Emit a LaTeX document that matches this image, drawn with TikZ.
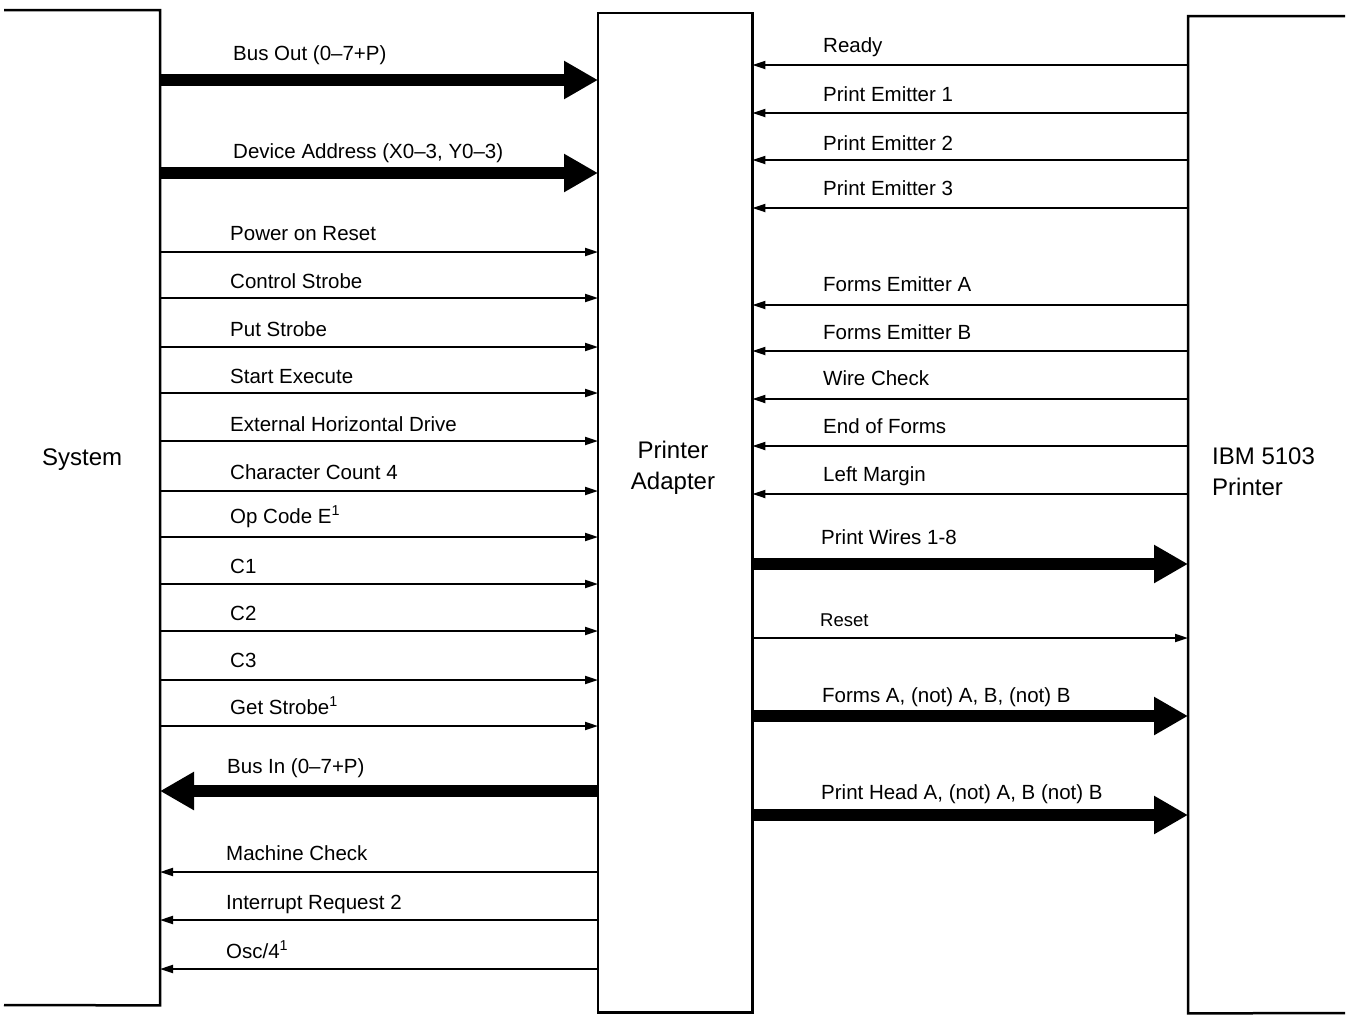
\documentclass[tikz,border=0pt]{standalone}
\usepackage{fontspec}
\setmainfont{Liberation Sans}
\usetikzlibrary{arrows.meta}
\begin{document}
\begin{tikzpicture}[x=1pt,y=-1pt,
  box/.style={line width=2.5pt},
  sig/.style={line width=2pt,-{Triangle[length=13pt,width=8pt]}},
  bus/.style={line width=12pt,-{Triangle[length=34pt,width=36pt]}},
  lbl/.style={anchor=base west,inner sep=0pt,font=\fontsize{20.5}{24}\selectfont},
  big/.style={inner sep=0pt,font=\fontsize{24}{31}\selectfont},
  blk/.style={draw=none,inner sep=0pt}]
\path[use as bounding box] (0,0) rectangle (1349,1015);
% blocks
\node[blk,minimum width=150pt,minimum height=995pt,anchor=north east] (sys) at (160,10) {};
\node[blk,minimum width=154pt,minimum height=999pt,anchor=north west] (pa) at (598,13) {};
\node[blk,minimum width=150pt,minimum height=997pt,anchor=north west] (ibm) at (1188,16) {};
\draw[box] (4,10) -- (sys.north east) -- (sys.south east) -- (4,1005);
\draw[box] (pa.north west) rectangle (pa.south east);
\draw[box] (1345,16) -- (ibm.north west) -- (ibm.south west) -- (1345,1013);
\node[big,anchor=west] (tsys) at (42,460) {System};
\node[big,align=center] (tpa) at (673,468) {Printer\\Adapter};
\node[big,align=left,anchor=west] (tibm) at (1212,472) {IBM 5103\\Printer};
% system -> adapter
\draw[bus] (sys.east |- 0,80) -- (pa.west |- 0,80);
\node[lbl] (l1) at (233,60) {Bus Out (0--7+P)};
\draw[bus] (sys.east |- 0,173) -- (pa.west |- 0,173);
\node[lbl] (l2) at (233,158) {Device Address (X0--3, Y0--3)};
\foreach \y/\ty/\t [count=\i] in {
  252/240/{Power on Reset},
  298/288/{Control Strobe},
  347/336/{Put Strobe},
  393/383/{Start Execute},
  441/431/{External Horizontal Drive},
  491/479/{Character Count 4},
  537/523/{Op Code E\textsuperscript{1}},
  584/573/{C1},
  631/620/{C2},
  680/667/{C3},
  726/714/{Get Strobe\textsuperscript{1}}}{
  \draw[sig] (sys.east |- 0,\y) -- (pa.west |- 0,\y);
  \node[lbl] (ls\i) at (230,\ty) {\t};
}
% adapter -> system
\draw[bus] (pa.west |- 0,791) -- (sys.east |- 0,791);
\node[lbl] (l3) at (227,773) {Bus In (0--7+P)};
\foreach \y/\ty/\t [count=\i] in {
  872/860/{Machine Check},
  920/909/{Interrupt Request 2},
  969/958/{Osc/4\textsuperscript{1}}}{
  \draw[sig] (pa.west |- 0,\y) -- (sys.east |- 0,\y);
  \node[lbl] (lb\i) at (226,\ty) {\t};
}
% printer -> adapter
\foreach \y/\ty/\t [count=\i] in {
  65/52/{Ready},
  113/101/{Print Emitter 1},
  160/150/{Print Emitter 2},
  208/195/{Print Emitter 3},
  305/291/{Forms Emitter A},
  351/339/{Forms Emitter B},
  399/385/{Wire Check},
  446/433/{End of Forms},
  494/481/{Left Margin}}{
  \draw[sig] (ibm.west |- 0,\y) -- (pa.east |- 0,\y);
  \node[lbl] (lr\i) at (823,\ty) {\t};
}
% adapter -> printer
\draw[bus] (pa.east |- 0,564) -- (ibm.west |- 0,564);
\node[lbl] (l4) at (821,544) {Print Wires 1-8};
\draw[sig] (pa.east |- 0,638) -- (ibm.west |- 0,638);
\node[lbl,font=\fontsize{18.5}{22}\selectfont] (l5) at (820,626) {Reset};
\draw[bus] (pa.east |- 0,716) -- (ibm.west |- 0,716);
\node[lbl] (l6) at (822,702) {Forms A, (not) A, B, (not) B};
\draw[bus] (pa.east |- 0,815) -- (ibm.west |- 0,815);
\node[lbl] (l7) at (821,799) {Print Head A, (not) A, B (not) B};
\end{tikzpicture}
\end{document}
